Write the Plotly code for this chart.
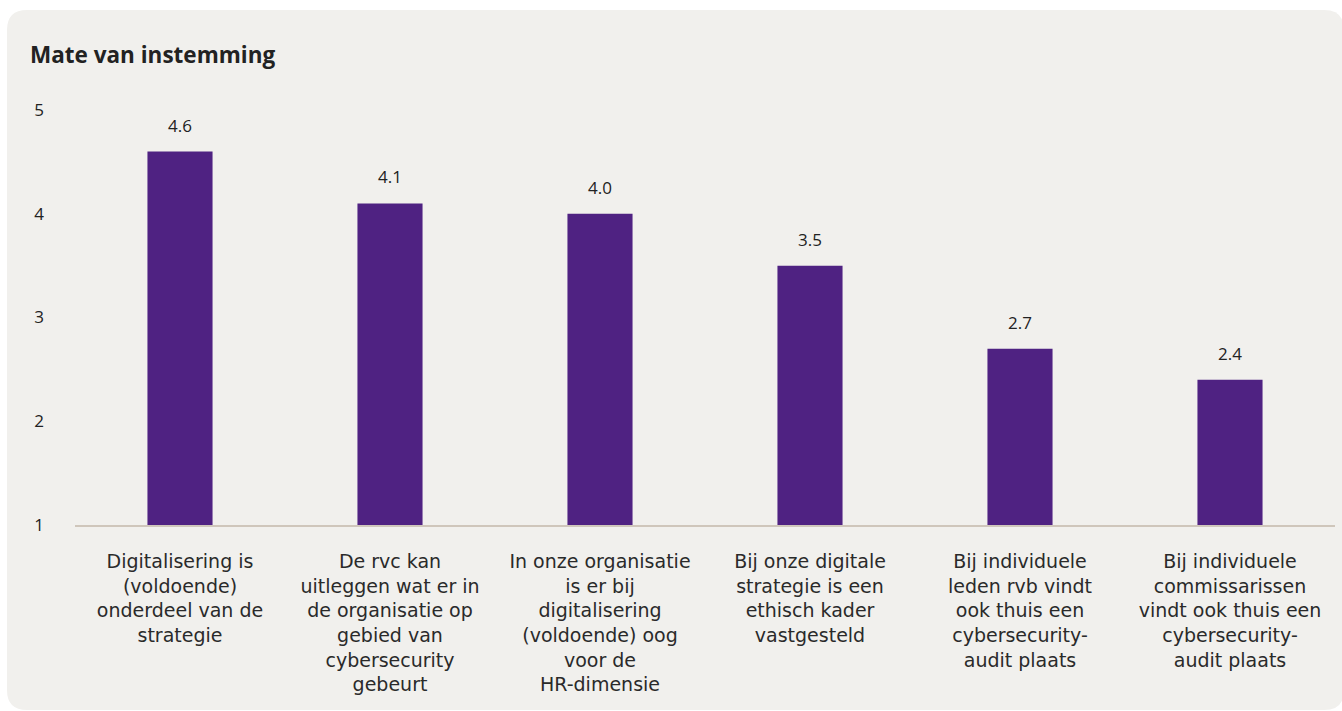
import plotly.graph_objects as go

# Survey statements (x-axis categories, pre-wrapped) and mean agreement scores
categories = [
    "Digitalisering is<br>(voldoende)<br>onderdeel van de<br>strategie",
    "De rvc kan<br>uitleggen wat er in<br>de organisatie op<br>gebied van<br>cybersecurity<br>gebeurt",
    "In onze organisatie<br>is er bij<br>digitalisering<br>(voldoende) oog<br>voor de<br>HR-dimensie",
    "Bij onze digitale<br>strategie is een<br>ethisch kader<br>vastgesteld",
    "Bij individuele<br>leden rvb vindt<br>ook thuis een<br>cybersecurity-<br>audit plaats",
    "Bij individuele<br>commissarissen<br>vindt ook thuis een<br>cybersecurity-<br>audit plaats",
]
scores = [4.6, 4.1, 4.0, 3.5, 2.7, 2.4]
y_ticks = [1, 2, 3, 4, 5]

W, H = 1342, 711
L, R, T, B = 75, 1335, 110, 525
BASE = 1

BAR = "#4f2282"
TEXT = "#222222"
PANEL = "#f1f0ed"
FONT = "'Open Sans', Lato, sans-serif"
WIDE = "'DejaVu Sans', 'Open Sans', sans-serif"

fig = go.Figure()
fig.add_trace(go.Bar(
    x=categories,
    y=[s - BASE for s in scores],
    base=BASE,
    marker=dict(color=BAR, line=dict(width=0)),
    hoverinfo="skip",
))

# value labels above each bar
for c, s in zip(categories, scores):
    fig.add_annotation(x=c, y=s, text=f"{s:.1f}", showarrow=False,
                       yanchor="bottom", yshift=13,
                       font=dict(size=17, color=TEXT, family=FONT))

# rounded background panel, expressed in paper coordinates
def px(xp):
    return (xp - L) / (R - L)

def py(yp):
    return (B - yp) / (B - T)

x0, x1, y0, y1, r = 7, 1344, 10, 710, 20
path = (
    f"M {px(x0 + r)},{py(y0)} L {px(x1 - r)},{py(y0)} "
    f"Q {px(x1)},{py(y0)} {px(x1)},{py(y0 + r)} "
    f"L {px(x1)},{py(y1 - r)} Q {px(x1)},{py(y1)} {px(x1 - r)},{py(y1)} "
    f"L {px(x0 + r)},{py(y1)} Q {px(x0)},{py(y1)} {px(x0)},{py(y1 - r)} "
    f"L {px(x0)},{py(y0 + r)} Q {px(x0)},{py(y0)} {px(x0 + r)},{py(y0)} Z"
)
fig.add_shape(type="path", path=path, xref="paper", yref="paper",
              fillcolor=PANEL, line=dict(width=0), layer="below")

fig.add_annotation(x=px(28), y=py(55), xref="paper", yref="paper",
                   text="<b>Mate van instemming</b>", showarrow=False,
                   xanchor="left", yanchor="middle",
                   font=dict(size=22.5, color=TEXT, family=FONT))

fig.update_layout(
    width=W, height=H,
    margin=dict(l=L, r=W - R, t=T, b=H - B, pad=0),
    paper_bgcolor="white",
    plot_bgcolor="rgba(0,0,0,0)",
    bargap=0.69,
    showlegend=False,
    font=dict(family=FONT, color=TEXT),
    xaxis=dict(
        showgrid=False, zeroline=False, showline=True,
        linecolor="#cfc6bb", linewidth=2,
        tickfont=dict(size=19, color="#2a2a2a", family=WIDE),
        ticks="", ticklabelstandoff=18,
    ),
    yaxis=dict(
        range=[1, 5], tickvals=y_ticks,
        showgrid=False, zeroline=False, showline=False,
        ticks="", ticklabelstandoff=30,
        tickfont=dict(size=17, color=TEXT, family=FONT),
    ),
)

fig.write_html("out.html")
